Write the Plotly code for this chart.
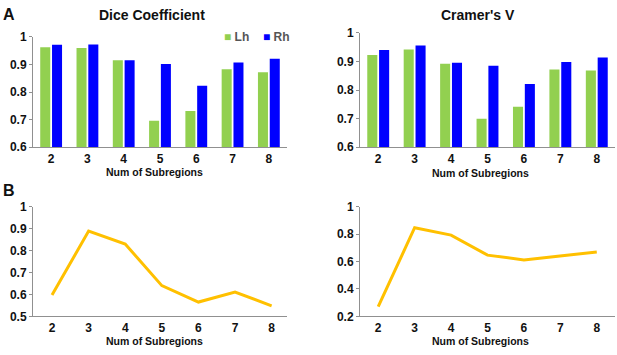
import plotly.graph_objects as go

subregions = [2, 3, 4, 5, 6, 7, 8]
dice_lh = [0.962, 0.959, 0.915, 0.696, 0.731, 0.882, 0.872]
dice_rh = [0.971, 0.972, 0.915, 0.901, 0.823, 0.907, 0.920]
cramer_lh = [0.923, 0.942, 0.892, 0.700, 0.742, 0.872, 0.869]
cramer_rh = [0.940, 0.956, 0.896, 0.885, 0.821, 0.898, 0.914]
dice_b = [0.597, 0.889, 0.830, 0.640, 0.565, 0.611, 0.548]
cramer_b = [0.270, 0.847, 0.793, 0.647, 0.612, 0.642, 0.670]

GREEN = "#92D050"
BLUE = "#0000FF"
ORANGE = "#FFC000"
FONT = "Liberation Sans, Arial, sans-serif"
AXC = "#909090"

W, H = 617, 355

def xd(a, b):
    return [a / W, b / W]

def yd(top, bottom):
    return [1 - bottom / H, 1 - top / H]

fig = go.Figure()
fig.add_trace(go.Bar(x=subregions, y=dice_lh, name="Lh", marker_color=GREEN,
                     marker_line_width=0, xaxis="x", yaxis="y"))
fig.add_trace(go.Bar(x=subregions, y=dice_rh, name="Rh", marker_color=BLUE,
                     marker_line_width=0, xaxis="x", yaxis="y"))
fig.add_trace(go.Bar(x=subregions, y=cramer_lh, name="Lh", marker_color=GREEN,
                     marker_line_width=0, xaxis="x2", yaxis="y2"))
fig.add_trace(go.Bar(x=subregions, y=cramer_rh, name="Rh", marker_color=BLUE,
                     marker_line_width=0, xaxis="x2", yaxis="y2"))
fig.add_trace(go.Scatter(x=subregions, y=dice_b, mode="lines",
                         line=dict(color=ORANGE, width=3), xaxis="x3", yaxis="y3"))
fig.add_trace(go.Scatter(x=subregions, y=cramer_b, mode="lines",
                         line=dict(color=ORANGE, width=3), xaxis="x4", yaxis="y4"))

tickfont = dict(family=FONT, size=12, color="#111", weight="bold")

def xaxis(dom, anchor, rng):
    return dict(domain=dom, anchor=anchor, range=rng, tickmode="array",
                tickvals=subregions, ticktext=[str(v) for v in subregions],
                showline=True, linecolor=AXC, linewidth=1, ticks="",
                showgrid=False, zeroline=False, tickfont=tickfont, fixedrange=True)

def yaxis(dom, anchor, rng, dtick):
    return dict(domain=dom, anchor=anchor, range=rng, dtick=dtick, tick0=0,
                showline=True, linecolor=AXC, linewidth=1, ticks="outside",
                ticklen=3, tickcolor=AXC, showgrid=False, zeroline=False,
                tickfont=tickfont, fixedrange=True)

fig.update_layout(
    width=W, height=H,
    margin=dict(l=0, r=0, t=0, b=0),
    paper_bgcolor="white", plot_bgcolor="white",
    barmode="group", bargap=0.35, bargroupgap=0.15,
    font=dict(family=FONT, color="#111"),
    xaxis=xaxis(xd(33, 287), "y", [1.5, 8.5]),
    yaxis=yaxis(yd(31, 146), "x", [0.6, 1.0], 0.1),
    xaxis2=xaxis(xd(360, 615), "y2", [1.5, 8.5]),
    yaxis2=yaxis(yd(27, 146), "x2", [0.6, 1.0], 0.1),
    xaxis3=xaxis(xd(33, 287), "y3", [1.48, 8.42]),
    yaxis3=yaxis(yd(208, 322), "x3", [0.5, 1.0], 0.1),
    xaxis4=xaxis(xd(360, 615), "y4", [1.5, 8.5]),
    yaxis4=yaxis(yd(208, 322), "x4", [0.2, 1.0], 0.2),
    showlegend=False,
)

def ann(text, x, y, size, anchor="center", color="#111"):
    fig.add_annotation(text=text, x=x / W, y=1 - y / H, xref="paper", yref="paper",
                       showarrow=False, xanchor=anchor, yanchor="middle",
                       font=dict(family=FONT, size=size, color=color))

ann("<b>A</b>", 1, 8, 16, "left")
ann("<b>B</b>", 1, 191, 16, "left")
ann("<b>Dice Coefficient</b>", 152, 8, 14)
ann("<b>Cramer's V</b>", 478, 8, 14)
ann("<b>Num of Subregions</b>", 154, 172, 10.5)
ann("<b>Num of Subregions</b>", 481, 173, 10.5)
ann("<b>Num of Subregions</b>", 154, 348, 10.5)
ann("<b>Num of Subregions</b>", 481, 348, 10.5)

# legend entries (Lh / Rh) for panel A
ann(f"<span style='color:{GREEN}'>■</span> <b>Lh</b>", 222, 31, 12, "left", "#555")
ann(f"<span style='color:{BLUE}'>■</span> <b>Rh</b>", 261, 31, 12, "left", "#555")

fig.write_html("out.html", config={"displayModeBar": False},
               post_script="document.body.style.margin='0';")
